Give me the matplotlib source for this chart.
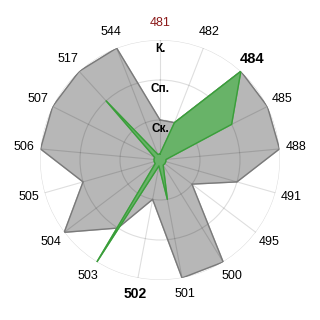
import numpy as np
import matplotlib
matplotlib.use("Agg")
import matplotlib.pyplot as plt

plt.rcParams['font.family'] = ['Liberation Sans', 'DejaVu Sans']

# categories clockwise from the top
categories = ['481', '482', '484', '485', '488', '491', '495', '500', '501',
              '502', '503', '504', '505', '506', '507', '517', '544']
# levels: 1 = Ск., 2 = Сп., 3 = К.
gray_values = [1, 1, 3, 3, 3, 2, 1, 3, 3, 1, 2, 3, 2, 3, 3, 3, 3]
green_values = [0.15, 1, 3, 2, 0.15, 0.15, 0.15, 0.15, 1,
                0.15, 3, 0.15, 0.15, 0.15, 0.15, 2, 0.15]
level_labels = ['Ск.', 'Сп.', 'К.']
level_values = [1, 2, 3]

n = len(categories)
angles = np.linspace(0, 2 * np.pi, n, endpoint=False)

fig = plt.figure(figsize=(3.2, 3.2), dpi=100)
ax = fig.add_axes([0.125, 0.125, 0.75, 0.75], projection='polar')
ax.set_theta_zero_location('N')
ax.set_theta_direction(-1)
ax.set_ylim(0, 3)

a = np.append(angles, angles[0])
g = np.append(gray_values, gray_values[0])
gr = np.append(green_values, green_values[0])

ax.fill(a, g, color='#b7b7b7', zorder=2)
ax.plot(a, g, color='#7a7a7a', lw=1, zorder=3)
ax.fill(a, gr, color='#68b368', zorder=4)
ax.plot(a, gr, color='#3a9e3a', lw=1, zorder=5)

# grid on top, semi transparent
ax.set_xticks(angles)
ax.set_xticklabels([])
ax.set_yticks(level_values)
ax.set_yticklabels([])
ax.grid(True, color='k', alpha=0.13, lw=0.8, zorder=6)
ax.set_axisbelow(False)
ax.spines['polar'].set_visible(False)
ax.tick_params(length=0)

for lv, lab in zip(level_values, level_labels):
    ax.text(0, lv - 0.22, lab, ha='center', va='center', fontsize=8.5,
            fontweight='bold', zorder=7)

for ang, cat in zip(angles, categories):
    kw = dict(fontsize=9, color='black')
    if cat == '481':
        kw['color'] = '#8b1a1a'
    if cat == '484':
        kw.update(fontsize=10.5, fontweight='bold')
    if cat == '502':
        kw.update(fontsize=10, fontweight='bold')
    ax.text(ang, 3.42, cat, ha='center', va='center', clip_on=False, **kw)

fig.savefig('out.png', dpi=100)
